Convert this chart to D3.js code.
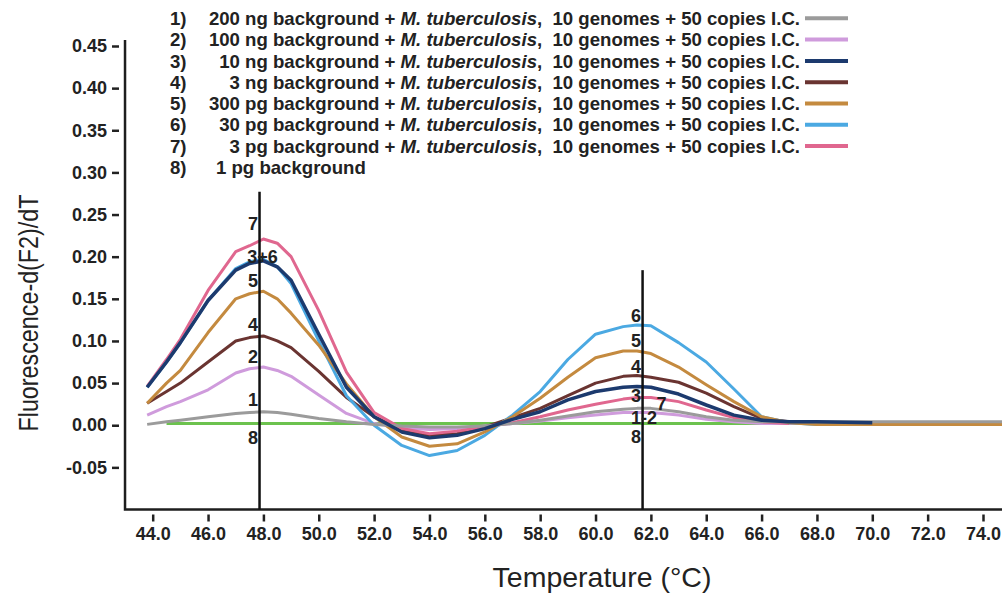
<!DOCTYPE html>
<html>
<head>
<meta charset="utf-8">
<script src="https://cdn.jsdelivr.net/npm/d3@7"></script>
<style>
  body { margin: 0; background: #fff; }
  text { font-family: "Liberation Sans", Arial, sans-serif; fill: #222; }
</style>
</head>
<body>
<svg width="1002" height="593"></svg>
<script>
// temperature grid (°C)
const temps = [43.8, 44.5, 45, 46, 47, 47.5, 48, 48.5, 49, 50, 51, 52, 53, 54, 55, 56,
               57, 58, 59, 60, 61, 61.5, 62, 63, 64, 65, 66, 67, 68, 70, 72, 75];

// -d(F2)/dT for each sample
const s1 = [0.001, 0.004, 0.006, 0.010, 0.014, 0.015, 0.016, 0.015, 0.013, 0.008, 0.004, 0.001, -0.001, -0.002, -0.002, -0.001,
            0.002, 0.006, 0.011, 0.016, 0.019, 0.020, 0.020, 0.016, 0.010, 0.006, 0.004, 0.004, 0.004, 0.004, 0.004, 0.004];
const s2 = [0.012, 0.022, 0.028, 0.042, 0.062, 0.067, 0.069, 0.065, 0.058, 0.036, 0.014, 0.002, -0.003, -0.005, -0.004, -0.001,
            0.002, 0.005, 0.009, 0.012, 0.015, 0.015, 0.015, 0.012, 0.007, 0.004, 0.002, 0.002, 0.002, null, null, null];
const s3 = [0.045, 0.075, 0.098, 0.148, 0.184, 0.192, 0.195, 0.188, 0.172, 0.108, 0.045, 0.010, -0.008, -0.015, -0.012, -0.004,
            0.007, 0.016, 0.030, 0.040, 0.045, 0.046, 0.045, 0.037, 0.024, 0.012, 0.006, 0.004, 0.004, 0.003, null, null];
const s4 = [0.026, 0.040, 0.050, 0.075, 0.100, 0.104, 0.106, 0.100, 0.092, 0.064, 0.033, 0.010, -0.005, -0.012, -0.010, -0.002,
            0.009, 0.020, 0.035, 0.050, 0.058, 0.059, 0.057, 0.051, 0.038, 0.022, 0.008, 0.004, 0.003, null, null, null];
const s5 = [0.026, 0.050, 0.065, 0.110, 0.150, 0.156, 0.159, 0.150, 0.133, 0.095, 0.049, 0.010, -0.014, -0.025, -0.022, -0.008,
            0.010, 0.032, 0.057, 0.080, 0.088, 0.088, 0.085, 0.069, 0.048, 0.028, 0.010, 0.003, 0.001, 0.001, 0.001, 0.001];
const s6 = [0.045, 0.075, 0.098, 0.148, 0.186, 0.194, 0.197, 0.188, 0.168, 0.100, 0.035, 0.000, -0.024, -0.036, -0.030, -0.012,
            0.012, 0.040, 0.078, 0.108, 0.117, 0.119, 0.118, 0.098, 0.075, 0.043, 0.010, 0.003, 0.001, 0.001, 0.001, 0.001];
const s7 = [0.046, 0.078, 0.102, 0.160, 0.206, 0.213, 0.221, 0.216, 0.200, 0.136, 0.063, 0.015, -0.004, -0.010, -0.007, -0.002,
            0.003, 0.010, 0.018, 0.025, 0.031, 0.033, 0.033, 0.028, 0.018, 0.009, 0.004, 0.002, null, null, null, null];
const s8 = [null, 0.002, 0.002, 0.002, 0.002, 0.002, 0.002, 0.002, 0.002, 0.002, 0.002, 0.002, 0.002, 0.002, 0.002, 0.002,
            0.002, 0.002, 0.002, 0.002, 0.002, 0.002, 0.002, 0.002, 0.002, 0.002, 0.002, 0.002, 0.002, 0.002, null, null];

const legendAmounts = ["200 ng", "100 ng", "10 ng", "3 ng", "300 pg", "30 pg", "3 pg", "1 pg"];
const colors = ["#9b9b9b", "#cf9bdc", "#1c3a6e", "#6a3431", "#c48a3f", "#4ba9e2", "#e0678f", "#6cc24e"];
const series = [s1, s2, s3, s4, s5, s6, s7, s8];
const drawOrder = [7, 1, 3, 6, 5, 4, 0, 2];

const xTicks = [44, 46, 48, 50, 52, 54, 56, 58, 60, 62, 64, 66, 68, 70, 72, 74];
const yTicks = [-0.05, 0, 0.05, 0.10, 0.15, 0.20, 0.25, 0.30, 0.35, 0.40, 0.45];

// melting-peak markers: temperature, top of line, and numbers beside them
const markerTemps = [47.86, 61.7];
const markerTops = [0.277, 0.184];
const leftLabels = ["7", "3+6", "5", "4", "2", "1", "8"];
const leftLabelValues = [0.239, 0.2007, 0.172, 0.120, 0.081, 0.031, -0.014];
const rightLabels = ["6", "5", "4", "3", "7", "1-2", "8"];
const rightLabelValues = [0.1306, 0.101, 0.070, 0.0356, 0.0255, 0.0095, -0.013];

let svg = d3.select("svg");

let x = d3.scaleLinear().domain([44, 74]).range([152.7, 983]);
let y = d3.scaleLinear().domain([-0.10, 0.45]).range([509.5, 46]);

// axis spines
svg.append("path")
    .attr("d", "M" + x(43) + "," + y(0.457) + "V" + y(-0.10) + "H1002")
    .attr("fill", "none")
    .attr("stroke", "#1e1e1e")
    .attr("stroke-width", 2.5);

let yAxis = svg.append("g")
    .attr("transform", "translate(" + (x(43) - 6) + ",0)")
    .call(d3.axisLeft(y).tickValues(yTicks).tickSize(7).tickPadding(5)
        .tickFormat(function(d) { return d.toFixed(2); }));
yAxis.select(".domain").remove();

let xAxis = svg.append("g")
    .attr("transform", "translate(0," + (y(-0.10) + 5) + ")")
    .call(d3.axisBottom(x).tickValues(xTicks).tickSize(7).tickPadding(6)
        .tickFormat(function(d) { return d.toFixed(1); }));
xAxis.select(".domain").remove();

svg.selectAll(".tick line").attr("stroke", "#222").attr("stroke-width", 2.5);
svg.selectAll(".tick text")
    .attr("font-family", "'Liberation Sans', Arial, sans-serif")
    .attr("font-size", 18)
    .attr("font-weight", "bold")
    .attr("fill", "#222");

// curves
let line = d3.line()
    .defined(function(d) { return d[1] !== null; })
    .x(function(d) { return x(d[0]); })
    .y(function(d) { return y(d[1]); });

svg.append("g")
    .selectAll("path")
    .data(drawOrder)
    .enter().append("path")
    .attr("d", function(i) { return line(temps.map(function(t, k) { return [t, series[i][k]]; })); })
    .attr("fill", "none")
    .attr("stroke", function(i) { return colors[i]; })
    .attr("stroke-width", function(i) { return i === 2 ? 3.5 : 3; })
    .attr("stroke-linejoin", "round");

// marker lines
svg.append("g")
    .selectAll("line")
    .data(markerTemps)
    .enter().append("line")
    .attr("x1", function(d) { return x(d); })
    .attr("x2", function(d) { return x(d); })
    .attr("y1", function(d, i) { return y(markerTops[i]); })
    .attr("y2", y(-0.10))
    .attr("stroke", "#111")
    .attr("stroke-width", 2.5);

function markerLabels(labels, values, t, place) {
    svg.append("g")
        .selectAll("text")
        .data(labels)
        .enter().append("text")
        .text(function(d) { return d; })
        .attr("x", function(d) { return x(t) + place(d).dx; })
        .attr("y", function(d, i) { return y(values[i]); })
        .attr("dy", "0.36em")
        .attr("text-anchor", function(d) { return place(d).anchor; })
        .attr("font-size", 18)
        .attr("font-weight", "bold")
        .attr("fill", "#111");
}

markerLabels(leftLabels, leftLabelValues, markerTemps[0], function(d) {
    if (d === "3+6") return { dx: 3, anchor: "middle" };
    return { dx: -1.5, anchor: "end" };
});
markerLabels(rightLabels, rightLabelValues, markerTemps[1], function(d) {
    if (d === "7") return { dx: 14, anchor: "start" };
    if (d === "1-2") return { dx: 1.5, anchor: "middle" };
    return { dx: -1.5, anchor: "end" };
});

// legend
let legend = svg.append("g");
legendAmounts.forEach(function(amount, i) {
    let ly = 18.3 + i * 21.3;
    legend.append("text")
        .attr("x", 170).attr("y", ly).attr("dy", "0.36em")
        .attr("font-size", 18.6).attr("font-weight", "bold")
        .text((i + 1) + ")");
    if (i < 7) {
        let t = legend.append("text")
            .attr("x", 800).attr("y", ly).attr("dy", "0.36em")
            .attr("text-anchor", "end")
            .attr("font-size", 18.6).attr("font-weight", "bold")
            .style("white-space", "pre");
        t.append("tspan").text(amount + " background + ");
        t.append("tspan").attr("font-style", "italic").text("M. tuberculosis");
        t.append("tspan").text(",  10 genomes + 50 copies I.C.");
        legend.append("line")
            .attr("x1", 805).attr("x2", 848)
            .attr("y1", ly).attr("y2", ly)
            .attr("stroke", colors[i])
            .attr("stroke-width", 4);
    } else {
        legend.append("text")
            .attr("x", 216).attr("y", ly).attr("dy", "0.36em")
            .attr("font-size", 18.6).attr("font-weight", "bold")
            .text(amount + " background");
    }
});

// axis titles
svg.append("text")
    .attr("x", 602).attr("y", 587)
    .attr("text-anchor", "middle")
    .attr("font-size", 28.5)
    .attr("fill", "#333")
    .text("Temperature (°C)");

svg.append("text")
    .attr("transform", "translate(38,313) rotate(-90)")
    .attr("text-anchor", "middle")
    .attr("font-size", 27)
    .attr("textLength", 237)
    .attr("lengthAdjust", "spacingAndGlyphs")
    .attr("fill", "#333")
    .text("Fluorescence-d(F2)/dT");
</script>
</body>
</html>
